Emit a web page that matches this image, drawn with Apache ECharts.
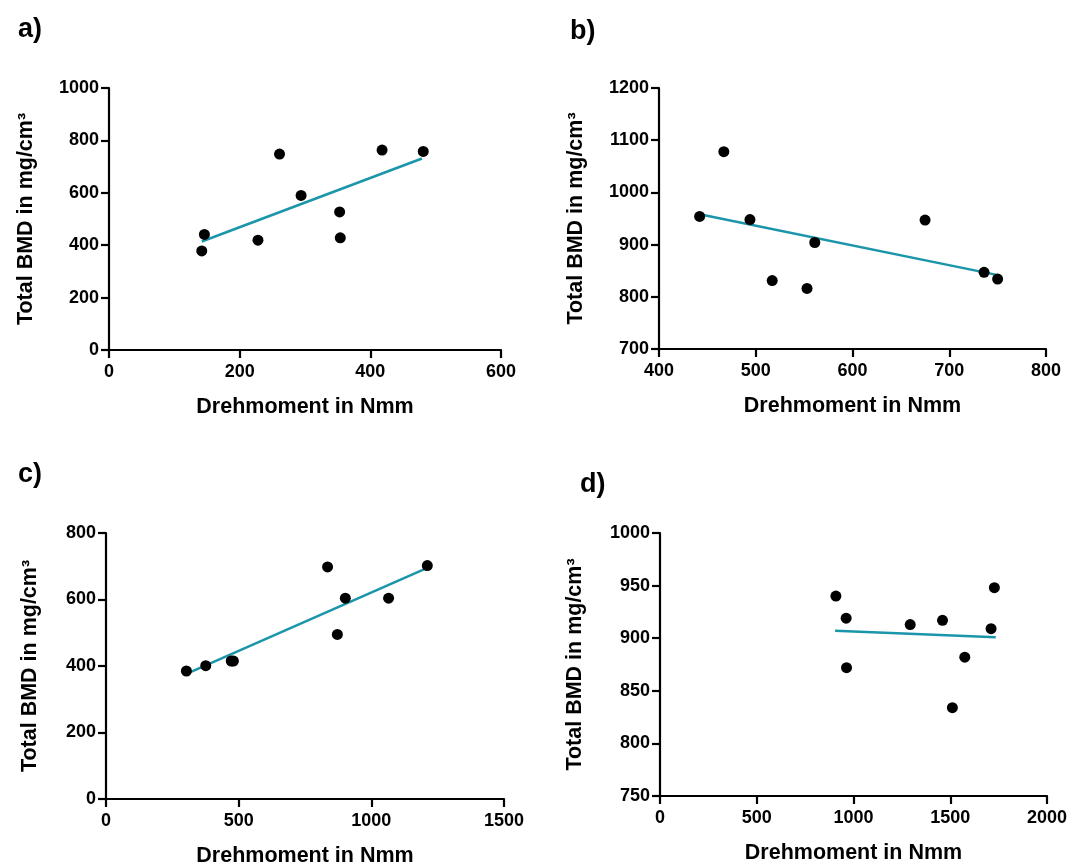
<!DOCTYPE html>
<html>
<head>
<meta charset="utf-8">
<script src="https://cdn.jsdelivr.net/npm/echarts@6/dist/echarts.min.js"></script>
<style>
  html, body { margin: 0; padding: 0; background: #fff; }
  #main { width: 1083px; height: 868px; }
</style>
</head>
<body>
<div id="main"></div>
<script>
    var aX = [142, 146, 228, 261, 294, 353, 354, 418, 481];
    var aY = [378, 441, 419, 748, 590, 527, 428, 763, 758];
    var aFit = [[142, 414], [479, 731]];

    var bX = [442, 467, 494, 517, 553, 561, 675, 736, 750];
    var bY = [954, 1078, 948, 831, 816, 904, 947, 847, 834];
    var bFit = [[442, 958], [749, 842]];

    var cX = [303, 376, 472, 480, 835, 872, 902, 1065, 1211];
    var cY = [385, 401, 415, 415, 698, 495, 604, 604, 702];
    var cFit = [[303, 376], [1211, 695]];

    var dX = [909, 962, 964, 1293, 1460, 1511, 1575, 1711, 1728];
    var dY = [940, 919, 872, 913, 917, 834, 882, 909, 948];
    var dFit = [[905, 907], [1735, 901]];

    var panels = [
        {label: 'a)', x: aX, y: aY, fit: aFit, xMin: 0, xMax: 600, xInt: 200, yMin: 0, yMax: 1000, yInt: 200,
         grid: {left: 109, top: 88, width: 392, height: 262}, yGap: 72, lx: 13, ly: 11},
        {label: 'b)', x: bX, y: bY, fit: bFit, xMin: 400, xMax: 800, xInt: 100, yMin: 700, yMax: 1200, yInt: 100,
         grid: {left: 659, top: 88, width: 387, height: 261}, yGap: 72, lx: 565, ly: 13},
        {label: 'c)', x: cX, y: cY, fit: cFit, xMin: 0, xMax: 1500, xInt: 500, yMin: 0, yMax: 800, yInt: 200,
         grid: {left: 106, top: 533, width: 398, height: 266}, yGap: 65, lx: 13, ly: 456},
        {label: 'd)', x: dX, y: dY, fit: dFit, xMin: 0, xMax: 2000, xInt: 500, yMin: 750, yMax: 1000, yInt: 50,
         grid: {left: 660, top: 533, width: 387, height: 263}, yGap: 74, lx: 575, ly: 466}
    ];

    var font = 'Liberation Sans, Arial, sans-serif';
    var axisLine = {show: true, lineStyle: {color: '#000', width: 2.2}};
    var axisTick = {show: true, length: 8, lineStyle: {color: '#000', width: 2.2}};
    var plain = function (v) { return String(v); };

    var option = {
        animation: false,
        backgroundColor: '#fff',
        title: [], grid: [], xAxis: [], yAxis: [], series: []
    };

    panels.forEach(function (p, i) {
        option.title.push({
            text: p.label, left: p.lx, top: p.ly,
            textStyle: {fontFamily: font, fontSize: 27, fontWeight: 'bold', color: '#000'}
        });
        option.grid.push(p.grid);
        option.xAxis.push({
            type: 'value', gridIndex: i, min: p.xMin, max: p.xMax, interval: p.xInt,
            name: 'Drehmoment in Nmm', nameLocation: 'middle', nameGap: 46,
            nameTextStyle: {fontFamily: font, fontSize: 21.5, fontWeight: 'bold', color: '#000'},
            axisLine: axisLine, axisTick: axisTick, splitLine: {show: false},
            axisLabel: {fontFamily: font, fontSize: 18, fontWeight: 'bold', color: '#000', margin: 13, formatter: plain}
        });
        option.yAxis.push({
            type: 'value', gridIndex: i, min: p.yMin, max: p.yMax, interval: p.yInt,
            name: 'Total BMD in mg/cm³', nameLocation: 'middle', nameGap: p.yGap,
            nameTextStyle: {fontFamily: font, fontSize: 21.5, fontWeight: 'bold', color: '#000'},
            axisLine: axisLine, axisTick: axisTick, splitLine: {show: false},
            axisLabel: {fontFamily: font, fontSize: 18, fontWeight: 'bold', color: '#000', margin: 10, formatter: plain}
        });
        option.series.push({
            type: 'line', xAxisIndex: i, yAxisIndex: i, data: p.fit,
            showSymbol: false, lineStyle: {color: '#1b95aa', width: 2.5}, z: 2
        });
        option.series.push({
            type: 'scatter', xAxisIndex: i, yAxisIndex: i,
            data: p.x.map(function (v, k) { return [v, p.y[k]]; }),
            symbolSize: 11, itemStyle: {color: '#000', opacity: 1}, z: 3
        });
    });

    var myChart = echarts.init(document.getElementById('main'));
    myChart.setOption(option);
</script>
</body>
</html>
